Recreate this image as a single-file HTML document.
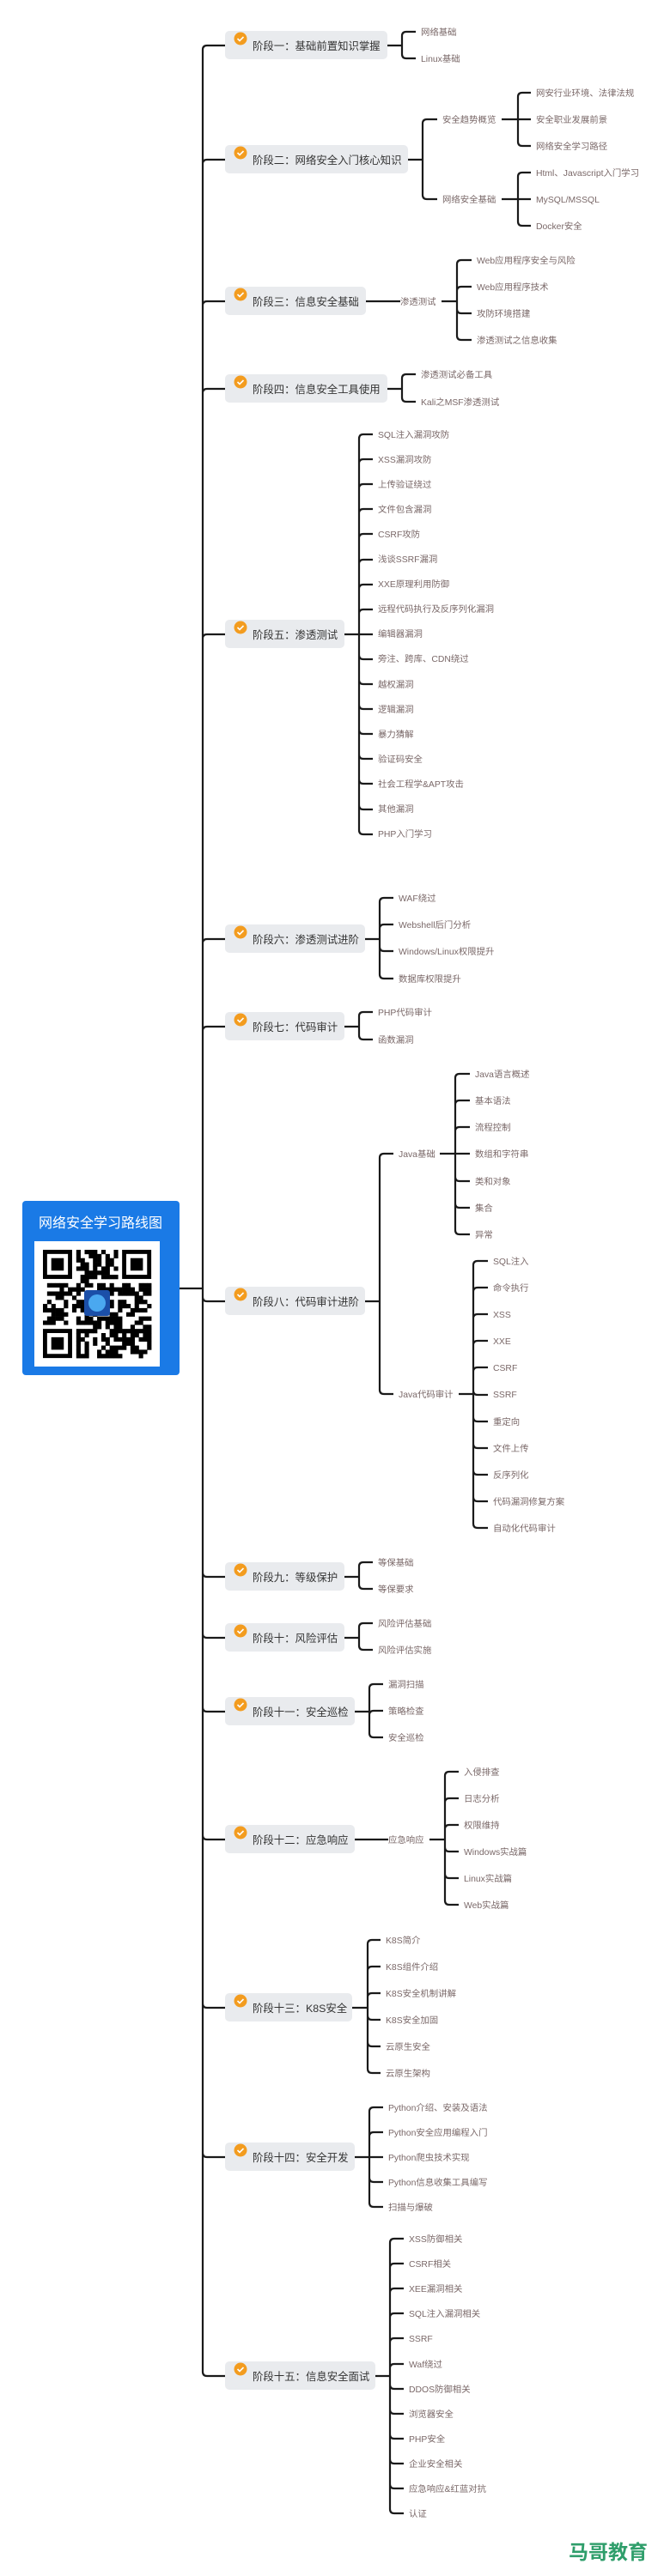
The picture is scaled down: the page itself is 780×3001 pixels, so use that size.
<!DOCTYPE html>
<html><head><meta charset="utf-8">
<style>
html,body{margin:0;padding:0;background:#fff;}
svg{display:block;}
.s{font-family:"Liberation Sans","Noto Sans CJK SC",sans-serif;font-size:12.4px;fill:#333;}
.l{font-family:"Liberation Sans","Noto Sans CJK SC",sans-serif;font-size:10.4px;fill:#7a6868;}
.b{fill:#e9ebee;}
.c{fill:#f39c1f;}
</style></head><body>
<svg id="svg" width="780" height="3001" viewBox="0 0 780 3001" xmlns="http://www.w3.org/2000/svg">
<g id="lines" fill="none" stroke="#1a1a1a" stroke-width="2.2"></g>
<g id="boxes"></g>

<!-- blue title card -->
<rect x="26" y="1399" width="183" height="203" rx="4" fill="#1a7ae6"/>
<text x="117" y="1430" text-anchor="middle" font-family="Liberation Sans,Noto Sans CJK SC,sans-serif" font-size="16" fill="#fff">网络安全学习路线图</text>
<rect x="40" y="1446" width="146" height="146" fill="#fff"/>
<g id="qr" fill="#000"></g>
<rect x="98" y="1503" width="30" height="30" rx="3" fill="#1b4fa8"/>
<circle cx="113" cy="1518" r="10" fill="#4aa8f0"/>

<!-- stage texts -->
<g class="s">
<text x="294" y="58">阶段一：基础前置知识掌握</text>
<text x="294" y="191">阶段二：网络安全入门核心知识</text>
<text x="294" y="356">阶段三：信息安全基础</text>
<text x="294" y="458">阶段四：信息安全工具使用</text>
<text x="294" y="744">阶段五：渗透测试</text>
<text x="294" y="1099">阶段六：渗透测试进阶</text>
<text x="294" y="1201">阶段七：代码审计</text>
<text x="294" y="1521">阶段八：代码审计进阶</text>
<text x="294" y="1842">阶段九：等级保护</text>
<text x="294" y="1913">阶段十：风险评估</text>
<text x="294" y="1999">阶段十一：安全巡检</text>
<text x="294" y="2148">阶段十二：应急响应</text>
<text x="294" y="2344">阶段十三：K8S安全</text>
<text x="294" y="2518">阶段十四：安全开发</text>
<text x="294" y="2773">阶段十五：信息安全面试</text>
</g>

<g class="l">
<text x="490" y="41">网络基础</text>
<text x="490" y="72">Linux基础</text>

<text x="515" y="143">安全趋势概览</text>
<text x="515" y="236">网络安全基础</text>
<text x="624" y="112">网安行业环境、法律法规</text>
<text x="624" y="143">安全职业发展前景</text>
<text x="624" y="174">网络安全学习路径</text>
<text x="624" y="205">Html、Javascript入门学习</text>
<text x="624" y="236">MySQL/MSSQL</text>
<text x="624" y="267">Docker安全</text>

<text x="466" y="355">渗透测试</text>
<text x="555" y="307">Web应用程序安全与风险</text>
<text x="555" y="338">Web应用程序技术</text>
<text x="555" y="369">攻防环境搭建</text>
<text x="555" y="400">渗透测试之信息收集</text>

<text x="490" y="440">渗透测试必备工具</text>
<text x="490" y="472">Kali之MSF渗透测试</text>

<text x="440" y="510">SQL注入漏洞攻防</text>
<text x="440" y="539">XSS漏洞攻防</text>
<text x="440" y="568">上传验证绕过</text>
<text x="440" y="597">文件包含漏洞</text>
<text x="440" y="626">CSRF攻防</text>
<text x="440" y="655">浅谈SSRF漏洞</text>
<text x="440" y="684">XXE原理利用防御</text>
<text x="440" y="713">远程代码执行及反序列化漏洞</text>
<text x="440" y="742">编辑器漏洞</text>
<text x="440" y="771">旁注、跨库、CDN绕过</text>
<text x="440" y="801">越权漏洞</text>
<text x="440" y="830">逻辑漏洞</text>
<text x="440" y="859">暴力猜解</text>
<text x="440" y="888">验证码安全</text>
<text x="440" y="917">社会工程学&amp;APT攻击</text>
<text x="440" y="946">其他漏洞</text>
<text x="440" y="975">PHP入门学习</text>

<text x="464" y="1050">WAF绕过</text>
<text x="464" y="1081">Webshell后门分析</text>
<text x="464" y="1112">Windows/Linux权限提升</text>
<text x="464" y="1144">数据库权限提升</text>

<text x="440" y="1183">PHP代码审计</text>
<text x="440" y="1215">函数漏洞</text>

<text x="464" y="1348">Java基础</text>
<text x="464" y="1628">Java代码审计</text>
<text x="553" y="1255">Java语言概述</text>
<text x="553" y="1286">基本语法</text>
<text x="553" y="1317">流程控制</text>
<text x="553" y="1348">数组和字符串</text>
<text x="553" y="1380">类和对象</text>
<text x="553" y="1411">集合</text>
<text x="553" y="1442">异常</text>
<text x="574" y="1473">SQL注入</text>
<text x="574" y="1504">命令执行</text>
<text x="574" y="1535">XSS</text>
<text x="574" y="1566">XXE</text>
<text x="574" y="1597">CSRF</text>
<text x="574" y="1628">SSRF</text>
<text x="574" y="1660">重定向</text>
<text x="574" y="1691">文件上传</text>
<text x="574" y="1722">反序列化</text>
<text x="574" y="1753">代码漏洞修复方案</text>
<text x="574" y="1784">自动化代码审计</text>

<text x="440" y="1824">等保基础</text>
<text x="440" y="1855">等保要求</text>
<text x="440" y="1895">风险评估基础</text>
<text x="440" y="1926">风险评估实施</text>

<text x="452" y="1966">漏洞扫描</text>
<text x="452" y="1997">策略检查</text>
<text x="452" y="2028">安全巡检</text>

<text x="452" y="2147">应急响应</text>
<text x="540" y="2068">入侵排查</text>
<text x="540" y="2099">日志分析</text>
<text x="540" y="2130">权限维持</text>
<text x="540" y="2161">Windows实战篇</text>
<text x="540" y="2192">Linux实战篇</text>
<text x="540" y="2223">Web实战篇</text>

<text x="449" y="2264">K8S简介</text>
<text x="449" y="2295">K8S组件介绍</text>
<text x="449" y="2326">K8S安全机制讲解</text>
<text x="449" y="2357">K8S安全加固</text>
<text x="449" y="2388">云原生安全</text>
<text x="449" y="2419">云原生架构</text>

<text x="452" y="2459">Python介绍、安装及语法</text>
<text x="452" y="2488">Python安全应用编程入门</text>
<text x="452" y="2517">Python爬虫技术实现</text>
<text x="452" y="2546">Python信息收集工具编写</text>
<text x="452" y="2575">扫描与爆破</text>

<text x="476" y="2612">XSS防御相关</text>
<text x="476" y="2641">CSRF相关</text>
<text x="476" y="2670">XEE漏洞相关</text>
<text x="476" y="2699">SQL注入漏洞相关</text>
<text x="476" y="2728">SSRF</text>
<text x="476" y="2758">Waf绕过</text>
<text x="476" y="2787">DDOS防御相关</text>
<text x="476" y="2816">浏览器安全</text>
<text x="476" y="2845">PHP安全</text>
<text x="476" y="2874">企业安全相关</text>
<text x="476" y="2903">应急响应&amp;红蓝对抗</text>
<text x="476" y="2932">认证</text>
</g>

<text x="662" y="2981" font-family="Liberation Sans,Noto Sans CJK SC,sans-serif" font-size="23" font-weight="bold" fill="#2f9e6b">马哥教育</text>
</svg>
<script>
(function(){
var NS="http://www.w3.org/2000/svg";
var lines=document.getElementById('lines');
function P(d){var p=document.createElementNS(NS,'path');p.setAttribute('d',d);lines.appendChild(p);}
function G(x0,py,bx,cx,ys){
  var d='M'+x0+' '+py+' H'+bx;
  ys.forEach(function(cy){
    if(Math.abs(cy-py)<1){d+=' M'+bx+' '+py+' H'+(cx-6);}
    else{var s=cy>py?1:-1;d+=' M'+bx+' '+py+' V'+(cy-s*5)+' Q'+bx+' '+cy+' '+(bx+5)+' '+cy+' H'+(cx-6);}
  });
  P(d);
}
function seq(a,n,st){var r=[];for(var i=0;i<n;i++)r.push(Math.round(a+i*st));return r;}
var stages=[[451,53],[475,186],[426,351],[451,453],[401,739],[425,1094],[401,1196],[425,1516],[401,1837],[401,1908],[413,1994],[413,2143],[410,2339],[413,2513],[437,2768]];
// trunk
G(209,1501,236,268,stages.map(function(s){return s[1];}));
var bx=document.getElementById('boxes');
stages.forEach(function(s){
  var r=document.createElementNS(NS,'rect');
  r.setAttribute('x',262);r.setAttribute('y',s[1]-17);r.setAttribute('width',s[0]-262);r.setAttribute('height',33);r.setAttribute('rx',5);r.setAttribute('class','b');bx.appendChild(r);
  var c=document.createElementNS(NS,'circle');c.setAttribute('cx',280);c.setAttribute('cy',s[1]-8);c.setAttribute('r',7.5);c.setAttribute('class','c');bx.appendChild(c);
  var k=document.createElementNS(NS,'path');k.setAttribute('d','M276.5 '+(s[1]-8)+' l2.5 2.5 l4.5 -4.5');k.setAttribute('stroke','#fff');k.setAttribute('stroke-width','1.6');k.setAttribute('fill','none');bx.appendChild(k);
});
G(451,53,468,490,[37,68]);
G(475,186,492,515,[139,232]);
G(584,139,603,624,[108,139,170]);
G(584,232,603,624,[201,232,263]);
G(426,351,440,472,[351]);
G(514,351,532,555,[303,334,365,396]);
G(451,453,468,490,[436,468]);
G(401,739,418,440,seq(506,17,29.1));
G(425,1094,442,464,[1046,1077,1108,1140]);
G(401,1196,418,440,[1179,1211]);
G(425,1516,442,464,[1344,1624]);
G(512,1344,530,553,[1251,1282,1313,1344,1376,1407,1438]);
G(534,1624,551,574,seq(1469,11,31.1));
G(401,1837,418,440,[1820,1851]);
G(401,1908,418,440,[1891,1922]);
G(413,1994,430,452,[1962,1993,2024]);
G(413,2143,430,458,[2143]);
G(500,2143,518,540,[2064,2095,2126,2157,2188,2219]);
G(410,2339,428,449,[2260,2291,2322,2353,2384,2415]);
G(413,2513,430,452,[2455,2484,2513,2542,2571]);
G(437,2768,454,476,seq(2608,12,29.1));
// QR
var q=document.getElementById('qr');
function R(x,y,w,h,f){var r=document.createElementNS(NS,'rect');r.setAttribute('x',x);r.setAttribute('y',y);r.setAttribute('width',w);r.setAttribute('height',h);if(f)r.setAttribute('fill',f);q.appendChild(r);}
var m=4.85,ox=50,oy=1456,N=26,seed=7;
function rnd(){seed=(seed*9301+49297)%233280;return seed/233280;}
for(var i=0;i<N;i++)for(var j=0;j<N;j++){
  var inF=(i<8&&j<8)||(i<8&&j>=N-8)||(i>=N-8&&j<8);
  if(inF)continue;
  if(rnd()<0.5)R(ox+j*m,oy+i*m,m+0.3,m+0.3);
}
[[0,0],[0,N-7],[N-7,0]].forEach(function(p){
  var x=ox+p[1]*m,y=oy+p[0]*m;
  R(x,y,7*m,7*m);R(x+m,y+m,5*m,5*m,'#fff');R(x+2*m,y+2*m,3*m,3*m);
});
})();
</script>
</body></html>
